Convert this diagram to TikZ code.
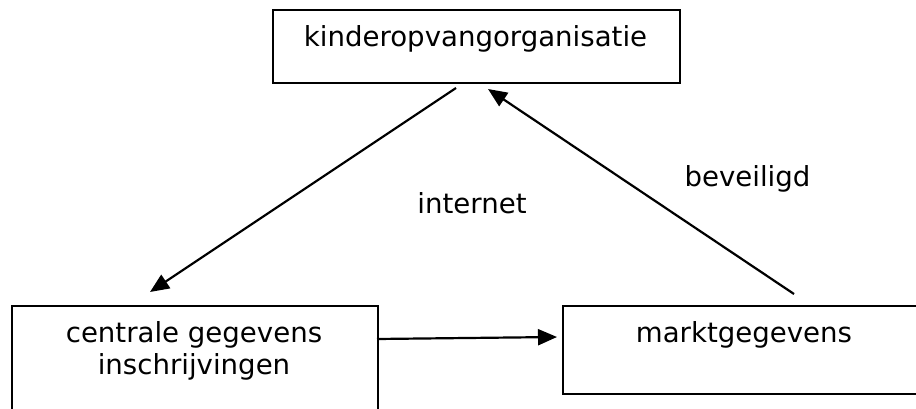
\documentclass[tikz,border=0pt]{standalone}
\usepackage{fontspec}
\setmainfont{DejaVu Sans}
\usetikzlibrary{arrows.meta}
\begin{document}
\begin{tikzpicture}[x=1pt,y=-1pt,
  box/.style={draw=black,line width=2.2pt,rectangle,inner sep=0pt,anchor=north west},
  txt/.style={anchor=base,inner sep=0pt,font=\fontsize{27.6}{32}\selectfont},
  conn/.style={line width=2.2pt,-{Triangle[length=19pt,width=16pt]}}]
\useasboundingbox (0,0) rectangle (916,409);
\clip (0,0) rectangle (916,409);
\node[box,minimum width=407pt,minimum height=73pt] (top) at (272,9) {};
\node[box,minimum width=366pt,minimum height=140pt] (left) at (11,305) {};
\node[box,minimum width=364pt,minimum height=88pt] (right) at (562,305) {};
\node[txt] (toptxt) at (475.5,47) {kinderopvangorganisatie};
\node[txt] (lefttxt1) at (194,342) {centrale gegevens};
\node[txt] (lefttxt2) at (194,374) {inschrijvingen};
\node[txt] (righttxt) at (744,342) {marktgegevens};
\node[txt] (internet) at (472,213) {internet};
\node[txt] (beveiligd) at (747.5,186) {beveiligd};
\coordinate (a1s) at (456,88);
\coordinate (a1e) at (150,292);
\coordinate (a2s) at (794,294);
\coordinate (a2e) at (488,89);
\coordinate (a3s) at (377,339);
\coordinate (a3e) at (557,337);
\draw[conn] (a1s) -- (a1e);
\draw[conn] (a2s) -- (a2e);
\draw[conn] (a3s) -- (a3e);
\end{tikzpicture}
\end{document}
